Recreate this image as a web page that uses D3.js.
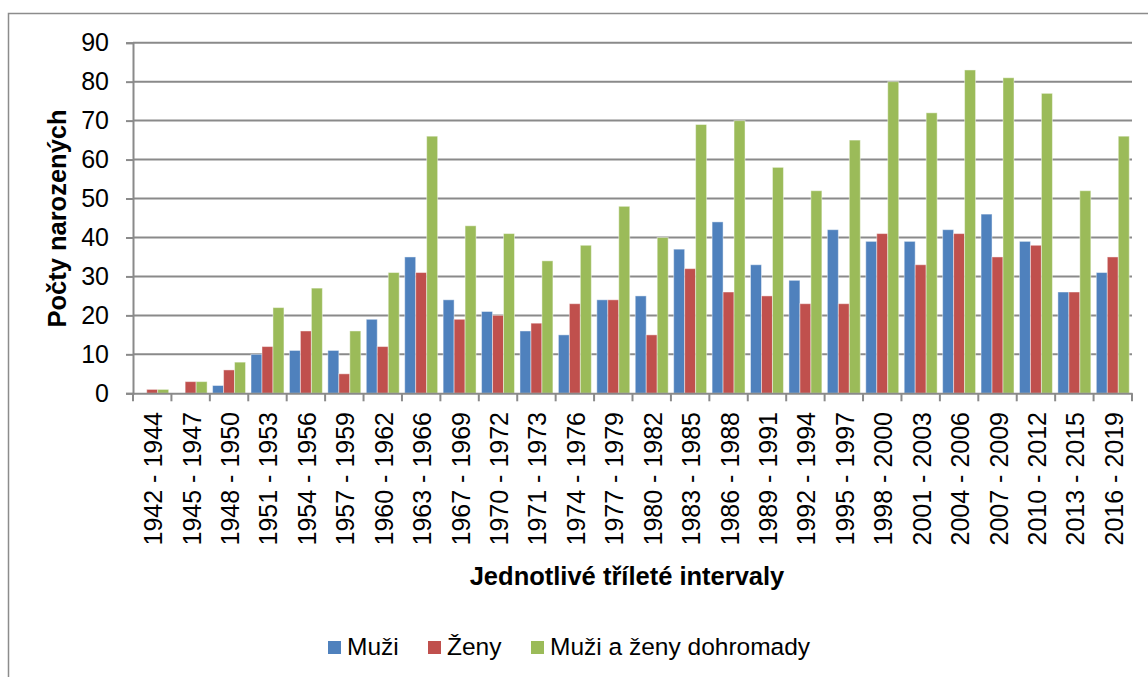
<!DOCTYPE html>
<html>
<head>
<meta charset="utf-8">
<script src="https://cdn.jsdelivr.net/npm/d3@7"></script>
<style>
  html, body { margin: 0; padding: 0; background: #fff; }
  svg { display: block; font-family: "Liberation Sans", Arial, sans-serif; }
</style>
</head>
<body>
<svg id="chart" width="1148" height="677"></svg>
<script>
const categories = ["1942 - 1944","1945 - 1947","1948 - 1950","1951 - 1953","1954 - 1956","1957 - 1959","1960 - 1962","1963 - 1966","1967 - 1969","1970 - 1972","1971 - 1973","1974 - 1976","1977 - 1979","1980 - 1982","1983 - 1985","1986 - 1988","1989 - 1991","1992 - 1994","1995 - 1997","1998 - 2000","2001 - 2003","2004 - 2006","2007 - 2009","2010 - 2012","2013 - 2015","2016 - 2019"];
const muzi   = [0,0,2,10,11,11,19,35,24,21,16,15,24,25,37,44,33,29,42,39,39,42,46,39,26,31];
const zeny   = [1,3,6,12,16,5,12,31,19,20,18,23,24,15,32,26,25,23,23,41,33,41,35,38,26,35];
const celkem = [1,3,8,22,27,16,31,66,43,41,34,38,48,40,69,70,58,52,65,80,72,83,81,77,52,66];
const seriesNames = ["Muži","Ženy","Muži a ženy dohromady"];
const yTicks = [0,10,20,30,40,50,60,70,80,90];
const colors = ["#4F81BD","#C0504D","#9BBB59"];

const svg = d3.select("#chart");
const plotL = 133, plotR = 1132, plotT = 42.7, plotB = 393.3;
const gridColor = "#8a8a8a";

// outer border
svg.append("rect").attr("x", 8.5).attr("y", 13.5).attr("width", 1200).attr("height", 700)
  .attr("fill", "none").attr("stroke", "#8c8c8c").attr("stroke-width", 1.5);

const x = d3.scaleBand().domain(categories).range([plotL, plotR]).paddingInner(0).paddingOuter(0);
const y = d3.scaleLinear().domain([0, 90]).range([plotB, plotT]);
const sub = d3.scaleBand().domain([0,1,2]).range([0, x.bandwidth()]).paddingInner(0).paddingOuter(0.25);

// gridlines
svg.append("g").selectAll("line").data(yTicks.slice(1)).join("line")
  .attr("x1", plotL).attr("x2", plotR)
  .attr("y1", d => y(d)).attr("y2", d => y(d))
  .attr("stroke", gridColor).attr("stroke-width", 2);

// y axis
const yAxis = svg.append("g").attr("transform", `translate(${plotL},0)`)
  .call(d3.axisLeft(y).tickValues(yTicks).tickSize(7).tickPadding(17).tickFormat(d3.format("d")));
yAxis.select(".domain").attr("stroke", gridColor).attr("stroke-width", 2);
yAxis.selectAll(".tick line").attr("stroke", gridColor).attr("stroke-width", 2);
yAxis.selectAll(".tick text").attr("font-size", 25).attr("fill", "#000")
  .attr("font-family", "Liberation Sans, Arial, sans-serif");

// bars
const allSeries = [muzi, zeny, celkem];
allSeries.forEach((vals, si) => {
  svg.append("g").selectAll("rect").data(vals).join("rect")
    .attr("x", (d, i) => x(categories[i]) + sub(si))
    .attr("width", sub.bandwidth())
    .attr("y", d => y(d))
    .attr("height", d => y(0) - y(d))
    .attr("fill", colors[si])
    .attr("stroke", "rgba(255,255,255,0.45)")
    .attr("stroke-width", 1);
});

// x axis
const xAxis = svg.append("g").attr("transform", `translate(0,${plotB})`)
  .call(d3.axisBottom(x).tickSize(0).tickFormat(""));
xAxis.select(".domain").attr("stroke", gridColor).attr("stroke-width", 2);
const boundaries = categories.map(c => x(c)).concat([plotR]);
svg.append("g").selectAll("line").data(boundaries).join("line")
  .attr("x1", d => d).attr("x2", d => d)
  .attr("y1", plotB).attr("y2", plotB + 8)
  .attr("stroke", gridColor).attr("stroke-width", 2);

svg.append("g").selectAll("text").data(categories).join("text")
  .attr("transform", d => `translate(${x(d) + x.bandwidth()/2 + 1},412) rotate(-90)`)
  .attr("text-anchor", "end").attr("dy", "0.36em")
  .attr("font-size", 25).attr("fill", "#000")
  .text(d => d);

// axis titles
svg.append("text").attr("x", 627).attr("y", 585).attr("text-anchor", "middle")
  .attr("font-size", 25.5).attr("font-weight", "bold").attr("fill", "#000")
  .text("Jednotlivé tříleté intervaly");
svg.append("text").attr("transform", "translate(66,218.5) rotate(-90)")
  .attr("text-anchor", "middle")
  .attr("font-size", 25.5).attr("font-weight", "bold").attr("fill", "#000")
  .text("Počty narozených");

// legend
const legendX = [328, 428, 531];
const lg = svg.append("g").selectAll("g").data(seriesNames).join("g")
  .attr("transform", (d, i) => `translate(${legendX[i]},641)`);
lg.append("rect").attr("width", 13).attr("height", 13).attr("fill", (d, i) => colors[i]);
lg.append("text").attr("x", 19).attr("y", 14).attr("font-size", 24.5).attr("fill", "#000")
  .text(d => d);
</script>
</body>
</html>
